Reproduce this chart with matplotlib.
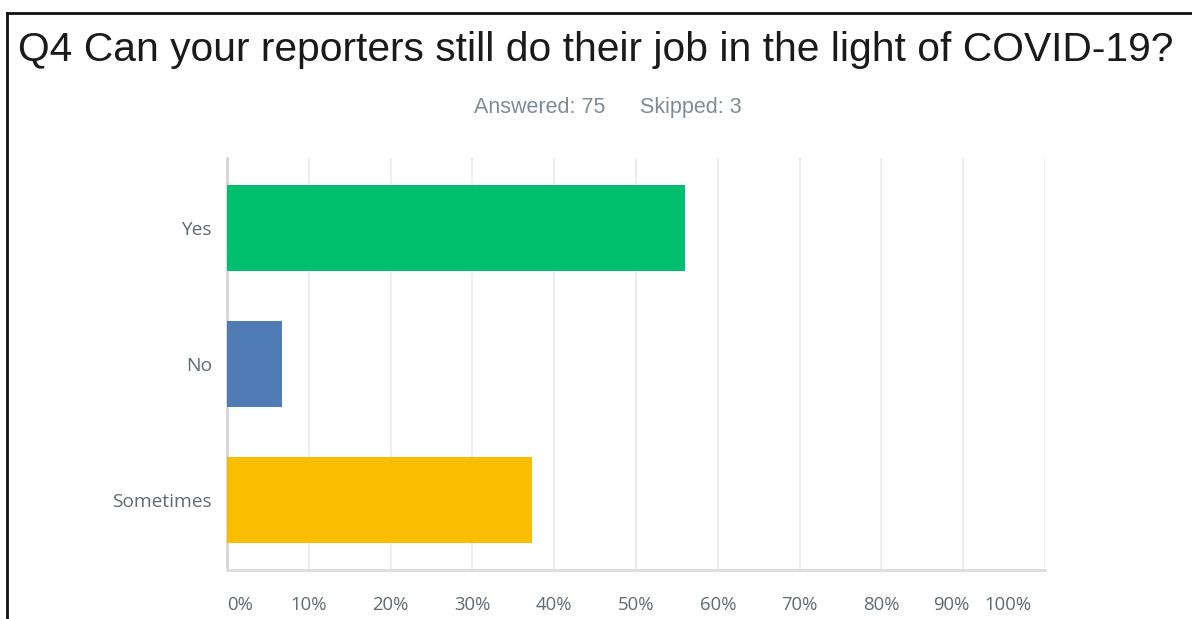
import matplotlib
matplotlib.use("Agg")
import matplotlib.pyplot as plt
from matplotlib.transforms import ScaledTranslation
from matplotlib.lines import Line2D

title = "Q4 Can your reporters still do their job in the light of COVID-19?"
answered_text = "Answered: 75"
skipped_text = "Skipped: 3"
categories = ["Yes", "No", "Sometimes"]
values = [56.0, 6.67, 37.33]
colors = ["#00BF6F", "#507CB6", "#F9BE00"]
xticks = [0, 10, 20, 30, 40, 50, 60, 70, 80, 90, 100]
xticklabels = ["0%", "10%", "20%", "30%", "40%", "50%", "60%", "70%", "80%", "90%", "100%"]

W, H = 1192, 619
fig = plt.figure(figsize=(W / 100, H / 100), dpi=100)
fig.patch.set_facecolor("white")

# frame lines (left and top)
fig.add_artist(Line2D([6.5 / W, 6.5 / W], [0, 1 - 12.5 / H], transform=fig.transFigure,
                      color="#111111", lw=2))
fig.add_artist(Line2D([6.5 / W, 1], [1 - 12.5 / H, 1 - 12.5 / H], transform=fig.transFigure,
                      color="#111111", lw=2))

fig.text(18 / W, 1 - 61 / H, title, fontsize=29.3, family="Liberation Sans",
         color="#1a1a1a", ha="left", va="baseline")
fig.text(605 / W, 1 - 113 / H, answered_text, fontsize=15.5, family="Liberation Sans",
         color="#7f8c96", ha="right", va="baseline")
fig.text(640 / W, 1 - 113 / H, skipped_text, fontsize=15.5, family="Liberation Sans",
         color="#7f8c96", ha="left", va="baseline")

ax = fig.add_axes([227 / W, 1 - 570 / H, (1045 - 227) / W, (570 - 158) / H])
ypos = list(range(len(categories)))
ax.barh(ypos, values, height=0.63, color=colors, zorder=3)
ax.set_xlim(0, 100)
ax.set_ylim(2.51, -0.51)
ax.set_xticks(xticks)
ax.set_xticklabels(xticklabels)
ax.set_yticks(ypos)
ax.set_yticklabels(categories)
ax.grid(axis="x", color="#EBEBEB", lw=1.2, zorder=0)
ax.tick_params(axis="both", length=0)
ax.tick_params(axis="x", pad=19, labelsize=13.3, labelcolor="#5f6b74")
ax.tick_params(axis="y", pad=11, labelsize=13.8, labelcolor="#5f6b74")
for lab in ax.get_xticklabels() + ax.get_yticklabels():
    lab.set_family("Open Sans")
for s in ["top", "right"]:
    ax.spines[s].set_visible(False)
ax.spines["left"].set_color("#D5D5D5")
ax.spines["left"].set_linewidth(2)
ax.spines["bottom"].set_color("#DCDCDC")
ax.spines["bottom"].set_linewidth(2)

xl = ax.get_xticklabels()
xl[0].set_ha("left")
xl[-1].set_ha("right")
xl[-1].set_transform(xl[-1].get_transform() + ScaledTranslation(-14 / 100, 0, fig.dpi_scale_trans))
xl[-2].set_transform(xl[-2].get_transform() + ScaledTranslation(-12 / 100, 0, fig.dpi_scale_trans))

fig.savefig("out.png", dpi=100)
